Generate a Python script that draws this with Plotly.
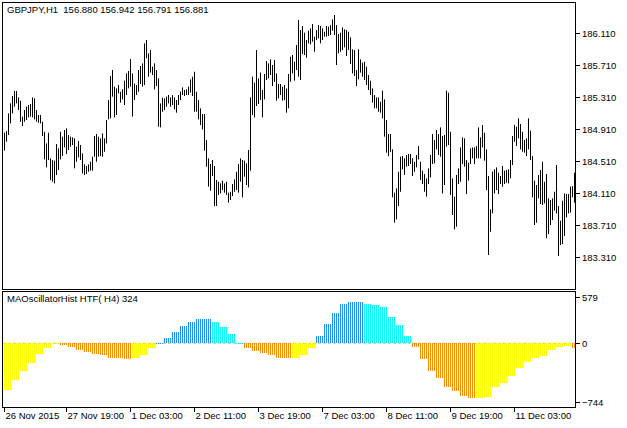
import plotly.graph_objects as go

highs = [
184.868,184.888,185.109,185.234,185.326,185.389,185.389,185.309,185.268,185.068,
185.151,185.193,185.214,185.226,185.309,185.297,185.151,185.089,185.089,185.005,
184.880,184.734,184.868,184.547,184.526,184.518,184.726,184.672,184.880,184.818,
184.901,184.922,184.839,184.818,184.809,184.797,184.693,184.764,184.714,184.609,
184.472,184.451,184.472,184.505,184.568,184.826,184.851,184.818,184.797,184.859,
184.797,185.026,185.276,185.576,185.651,185.443,185.422,185.464,185.380,185.409,
185.518,185.609,185.639,185.789,185.609,185.484,185.464,185.651,185.701,185.734,
185.984,186.026,185.859,185.901,185.693,185.734,185.651,185.547,185.234,185.305,
185.297,185.318,185.339,185.309,185.339,185.309,185.276,185.339,185.380,185.434,
185.401,185.409,185.443,185.534,185.568,185.630,185.380,185.276,185.172,185.101,
185.101,184.776,184.547,184.476,184.526,184.451,184.276,184.255,184.234,184.268,
184.234,184.255,184.118,184.130,184.226,184.284,184.380,184.476,184.547,184.526,
184.518,184.484,184.651,185.309,185.568,185.493,185.901,185.547,185.618,185.401,
185.601,185.764,185.734,185.784,185.714,185.776,185.609,185.476,185.476,185.443,
185.464,185.422,185.601,185.818,185.839,185.755,185.964,186.276,186.151,186.201,
186.118,186.026,186.143,186.172,186.226,186.068,186.151,186.214,186.201,186.172,
186.130,186.201,186.193,186.214,186.284,186.339,186.214,186.101,186.118,186.184,
186.159,186.151,186.130,186.059,185.909,185.901,185.651,185.909,185.784,185.743,
185.755,185.693,185.589,185.518,185.422,185.339,185.309,185.309,185.255,185.393,
185.284,185.026,184.851,184.851,184.659,184.118,184.172,184.380,184.568,184.576,
184.547,184.589,184.601,184.601,184.547,184.505,184.589,184.701,184.505,184.393,
184.351,184.297,184.422,184.589,184.851,184.776,184.901,184.851,184.934,184.826,
184.839,185.393,185.368,184.880,184.297,184.068,184.339,184.422,184.684,184.809,
184.797,184.526,184.493,184.672,184.684,184.684,184.701,184.934,184.809,184.964,
184.868,184.659,184.326,183.909,184.380,184.409,184.434,184.368,184.326,184.451,
184.393,184.401,184.409,184.526,184.826,184.964,184.943,185.047,184.976,184.880,
184.776,184.797,185.047,184.893,184.576,184.268,184.214,184.339,184.401,184.505,
184.255,184.351,184.047,184.026,184.047,184.130,184.464,183.951,183.768,184.018,
184.109,184.101,184.101,184.193,184.201,184.368]

lows = [
184.643,184.755,184.839,184.984,185.109,185.193,185.234,185.151,185.005,184.951,
185.005,185.026,185.059,185.068,185.059,185.034,185.005,184.993,184.984,184.826,
184.534,184.434,184.526,184.276,184.255,184.234,184.339,184.401,184.534,184.576,
184.684,184.601,184.651,184.693,184.714,184.422,184.505,184.559,184.526,184.359,
184.339,184.351,184.380,184.393,184.393,184.568,184.505,184.568,184.576,184.568,
184.630,184.734,185.034,185.047,185.318,185.059,185.089,185.359,185.243,185.284,
185.214,185.339,185.422,185.443,185.068,185.276,185.339,185.380,185.476,185.443,
185.464,185.797,185.568,185.618,185.589,185.409,185.451,184.943,184.934,185.130,
185.151,185.193,185.234,185.193,185.214,185.159,185.118,185.214,185.276,185.339,
185.326,185.339,185.339,185.368,185.326,185.130,185.130,185.034,184.964,184.909,
184.643,184.443,184.193,184.143,184.326,183.951,183.951,184.089,184.109,184.151,
184.118,184.089,183.993,184.026,184.076,184.130,184.151,184.118,184.255,184.059,
184.318,184.214,184.184,184.393,185.089,185.059,185.201,185.226,185.276,185.059,
185.284,185.526,185.547,185.589,185.451,185.505,185.268,185.297,185.339,185.268,
185.276,185.118,185.172,185.505,185.609,185.518,185.651,185.568,185.526,185.851,
185.839,185.805,185.984,185.972,186.005,185.880,186.026,186.047,185.984,186.026,
186.068,186.068,186.076,186.089,186.143,186.089,185.714,185.859,185.880,185.901,
185.934,185.826,185.901,185.726,185.609,185.576,185.451,185.534,185.618,185.568,
185.526,185.464,185.401,185.339,185.243,185.172,185.172,185.130,185.118,185.047,
184.818,184.618,184.576,184.630,184.059,183.743,183.784,183.951,184.130,184.409,
184.339,184.443,184.451,184.476,184.326,184.380,184.434,184.534,184.276,184.226,
184.130,184.068,184.226,184.309,184.476,184.484,184.659,184.589,184.568,184.109,
184.214,184.693,184.714,184.089,183.839,183.659,183.693,184.226,184.255,184.476,
184.443,184.101,184.268,184.476,184.547,184.476,184.547,184.547,184.547,184.684,
184.518,184.151,183.339,183.630,183.859,184.109,184.151,184.101,184.226,184.193,
184.226,184.243,184.234,184.297,184.464,184.755,184.701,184.797,184.659,184.630,
184.618,184.576,184.659,184.526,184.059,183.714,183.743,184.047,183.976,183.964,
183.984,183.547,183.601,183.714,183.776,183.893,183.859,183.326,183.464,183.476,
183.576,183.809,183.859,183.868,184.059,183.993]

# MA oscillator values of the H4 timeframe (one per H4 bar)
osc_h4 = [-588,-462,-349,-244,-135,-63,-4,-21,-42,-84,
          -105,-139,-147,-181,-189,-193,-189,-147,-55,3,
          71,139,223,273,307,307,264,205,117,2,
          -55,-93,-118,-147,-181,-189,-185,-147,-55,92,
          243,382,495,524,524,495,478,453,332,231,
          92,-42,-198,-345,-441,-546,-601,-660,-685,-684,
          -676,-546,-496,-408,-315,-231,-181,-156,-84,-42,
          -30,-55]
H1_PER_H4 = 4

tick_pos = [0, 31, 63, 95, 127, 159, 191, 223, 255]
tick_text = ["26 Nov 2015", "27 Nov 19:00", "1 Dec 03:00", "2 Dec 11:00", "3 Dec 19:00",
             "7 Dec 03:00", "8 Dec 11:00", "9 Dec 19:00", "11 Dec 03:00"]
price_ticks = [183.310, 183.710, 184.110, 184.510, 184.910, 185.310, 185.710, 186.110]
osc_ticks = [-744, 0, 579]

title_main = "GBPJPY,H1\u00a0\u00a0156.880 156.942 156.791 156.881"
title_sub = "MAOscillatorHist HTF( H4) 324"

n = len(highs)
idx = list(range(n))

# colours of the H4 histogram
cols_h4 = []
for k, v in enumerate(osc_h4):
    prev = osc_h4[k - 1] if k > 0 else v
    if v >= 0:
        cols_h4.append("#1E90FF" if v >= prev else "#00FFFF")
    else:
        cols_h4.append("#FF8C00" if v < prev else "#FFFF00")

osc = []
osc_col = []
for v, c in zip(osc_h4, cols_h4):
    osc += [v] * H1_PER_H4
    osc_col += [c] * H1_PER_H4
osc = osc[:n]
osc_col = osc_col[:n]

bx, by = [], []
for i, h, l in zip(idx, highs, lows):
    bx += [i, i, None]
    by += [h, l, None]

FONT = "Liberation Sans, Arial, sans-serif"
FS = 9.5

fig = go.Figure()
fig.add_trace(go.Scatter(x=bx, y=by, mode="lines", line=dict(color="black", width=1),
                         xaxis="x", yaxis="y", hoverinfo="skip", showlegend=False))
fig.add_trace(go.Bar(x=idx, y=osc, marker=dict(color=osc_col, line=dict(width=0)),
                     width=0.5, xaxis="x2", yaxis="y2", showlegend=False))

H = 404.0
xr = [-0.75, n - 0.75]
common = dict(showgrid=False, zeroline=False, showline=True, linecolor="black",
              linewidth=1, mirror=True, automargin=False)
fig.update_layout(
    width=627, height=428,
    margin=dict(l=3, r=52, t=3, b=21, pad=0, autoexpand=False),
    paper_bgcolor="white", plot_bgcolor="white",
    font=dict(family=FONT, size=FS, color="black"),
    bargap=0,
    xaxis=dict(domain=[0, 1], range=xr, anchor="y", showticklabels=False, ticks="",
               matches="x2", **common),
    yaxis=dict(domain=[118 / H, 1], range=[182.914, 186.489], side="right",
               tickvals=price_ticks, tickformat=".3f", ticks="outside", ticklen=4,
               tickcolor="black", anchor="x", **common),
    xaxis2=dict(domain=[0, 1], range=xr, anchor="y2", tickvals=tick_pos, ticktext=tick_text,
                ticks="outside", ticklen=4, tickcolor="black", tickangle=0,
                ticklabelposition="outside right", **common),
    yaxis2=dict(domain=[0, 115 / H], range=[-803, 646], side="right", tickvals=osc_ticks,
                ticks="outside", ticklen=4, tickcolor="black", anchor="x2", **common),
    shapes=[dict(type="line", xref="x2 domain", yref="y2", x0=0, x1=1, y0=0, y1=0,
                 line=dict(color="#C0C0C0", width=1, dash="3px,2px"), layer="below")],
    annotations=[
        dict(text=title_main, xref="paper", yref="paper", x=0, y=1, xanchor="left",
             yanchor="top", xshift=2, yshift=1, showarrow=False, font=dict(size=FS)),
        dict(text=title_sub, xref="paper", yref="y2 domain", x=0, y=1, xanchor="left",
             yanchor="top", xshift=2, yshift=1, showarrow=False, font=dict(size=FS)),
    ],
)
fig.write_html("out.html", config={"displayModeBar": False},
               post_script="document.body.style.margin='0px';")
